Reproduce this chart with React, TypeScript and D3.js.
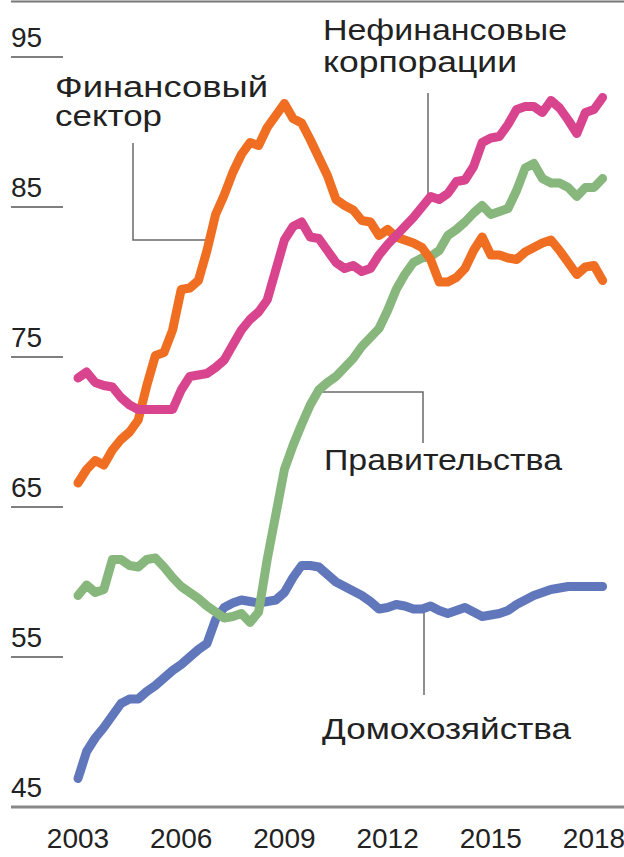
import * as d3 from "d3";

// quarterly, 2003Q1 .. 2018Q2
const financial = [
  66.6, 67.5, 68.1, 67.8, 68.8, 69.5, 70.0, 70.8, 73.1, 75.1, 75.3, 76.8, 79.5, 79.6, 80.1, 82.1,
  84.5, 85.8, 87.3, 88.5, 89.3, 89.1, 90.3, 91.1, 91.9, 90.9, 90.6, 89.5, 88.3, 87.1, 85.5, 85.1,
  84.8, 84.1, 84.0, 83.1, 83.5, 83.0, 82.8, 82.6, 82.3, 81.5, 80.0, 80.0, 80.3, 80.9, 82.1, 83.0,
  81.8, 81.8, 81.6, 81.5, 82.0, 82.3, 82.6, 82.8, 82.1, 81.3, 80.5, 81.0, 81.1, 80.1,
];
const corporates = [
  73.6, 74.0, 73.3, 73.1, 73.0, 72.3, 71.8, 71.5, 71.5, 71.5, 71.5, 71.5, 72.8, 73.7, 73.8, 73.9,
  74.3, 74.8, 75.8, 76.8, 77.5, 78.0, 78.8, 80.8, 82.8, 83.7, 84.0, 83.0, 82.9, 82.1, 81.3, 80.9,
  81.1, 80.7, 80.9, 81.8, 82.5, 83.1, 83.7, 84.3, 85.0, 85.7, 85.5, 85.9, 86.7, 86.8, 87.7, 89.3,
  89.6, 89.7, 90.5, 91.5, 91.7, 91.7, 91.3, 92.1, 91.6, 90.8, 89.9, 91.3, 91.5, 92.3,
];
const governments = [
  59.1, 59.8, 59.3, 59.5, 61.5, 61.5, 61.1, 61.0, 61.5, 61.6, 61.0, 60.3, 59.7, 59.3, 58.9, 58.4,
  58.0, 57.6, 57.7, 57.9, 57.3, 58.0, 61.5, 64.5, 67.5, 69.1, 70.5, 71.8, 72.8, 73.3, 73.7, 74.3,
  74.9, 75.7, 76.3, 76.9, 78.1, 79.5, 80.5, 81.3, 81.6, 81.7, 82.1, 83.1, 83.5, 84.0, 84.6, 85.1,
  84.5, 84.7, 84.9, 86.1, 87.6, 87.9, 86.9, 86.6, 86.6, 86.3, 85.7, 86.3, 86.3, 86.9,
];
const households = [
  46.9, 48.7, 49.6, 50.3, 51.1, 51.9, 52.2, 52.2, 52.7, 53.1, 53.6, 54.1, 54.5, 55.0, 55.5, 55.9,
  57.5, 58.3, 58.6, 58.8, 58.7, 58.6, 58.7, 58.8, 59.3, 60.3, 61.1, 61.1, 61.0, 60.5, 60.0, 59.7,
  59.4, 59.1, 58.7, 58.2, 58.3, 58.5, 58.4, 58.2, 58.2, 58.4, 58.1, 57.9, 58.1, 58.3, 58.0, 57.7,
  57.8, 57.9, 58.1, 58.5, 58.8, 59.1, 59.3, 59.5, 59.6, 59.7, 59.7, 59.7, 59.7, 59.7,
];
const yTicks = [95, 85, 75, 65, 55, 45];
const xTicks = [2003, 2006, 2009, 2012, 2015, 2018];

const series = [
  { name: "households", values: households, color: "#6177bb" },
  { name: "governments", values: governments, color: "#87b77d" },
  { name: "financial", values: financial, color: "#ef6e21" },
  { name: "corporates", values: corporates, color: "#d9448f" },
];

const W = 624;
const H = 857;

export default function App() {
  const x = d3.scaleLinear().domain([2003, 2018]).range([78, 594]);
  const y = d3.scaleLinear().domain([45, 95]).range([807, 57]);
  const line = d3
    .line<number>()
    .x((_, i) => x(2003 + i * 0.25))
    .y((d) => y(d));

  const font = "'Liberation Sans', Arial, sans-serif";
  const ink = "#222";
  const lead = "#6a6a6a";

  // annotation text, stretched to the widths in the original
  const Label = ({ x, y, w, children }) => (
    <text x={x} y={y} textLength={w} lengthAdjust="spacingAndGlyphs">
      {children}
    </text>
  );

  return (
    <svg
      width={W}
      height={H}
      style={{ position: "absolute", left: 0, top: 0, background: "#fff" }}
      fontFamily={font}
    >
      <rect width={W} height={H} fill="#fff" />
      {/* top rule */}
      <line x1={11} x2={W} y1={1.5} y2={1.5} stroke="#777" strokeWidth={2} />

      {/* y ticks */}
      {yTicks.map((t) => (
        <g key={t}>
          {t !== 45 && (
            <line x1={11} x2={63} y1={y(t)} y2={y(t)} stroke="#555" strokeWidth={1.5} />
          )}
          <text x={11} y={y(t) - 10} fontSize={28} fill={ink}>
            {t}
          </text>
        </g>
      ))}

      {/* leader lines */}
      <g fill="none" stroke={lead} strokeWidth={1.5}>
        <path d="M133,143V240H207" />
        <path d="M428,93V200" />
        <path d="M322,392H423V443" />
        <path d="M424,612V695" />
      </g>

      {/* series */}
      {series.map((s) => (
        <path
          key={s.name}
          d={line(s.values) ?? ""}
          fill="none"
          stroke={s.color}
          strokeWidth={9}
          strokeLinejoin="round"
          strokeLinecap="round"
        />
      ))}

      {/* bottom axis */}
      <line x1={11} x2={W} y1={807} y2={807} stroke="#888" strokeWidth={3} />
      {xTicks.map((t) => (
        <text key={t} x={x(t)} y={848} fontSize={28} fill={ink} textAnchor="middle">
          {t}
        </text>
      ))}

      {/* labels */}
      <g fontSize={29} fill={ink}>
        <Label x={55} y={97} w={213}>Финансовый</Label>
        <Label x={55} y={126} w={107}>сектор</Label>
        <Label x={323} y={40} w={244}>Нефинансовые</Label>
        <Label x={323} y={72} w={194}>корпорации</Label>
        <Label x={324} y={470} w={238}>Правительства</Label>
        <Label x={322} y={739} w={249}>Домохозяйства</Label>
      </g>
    </svg>
  );
}
